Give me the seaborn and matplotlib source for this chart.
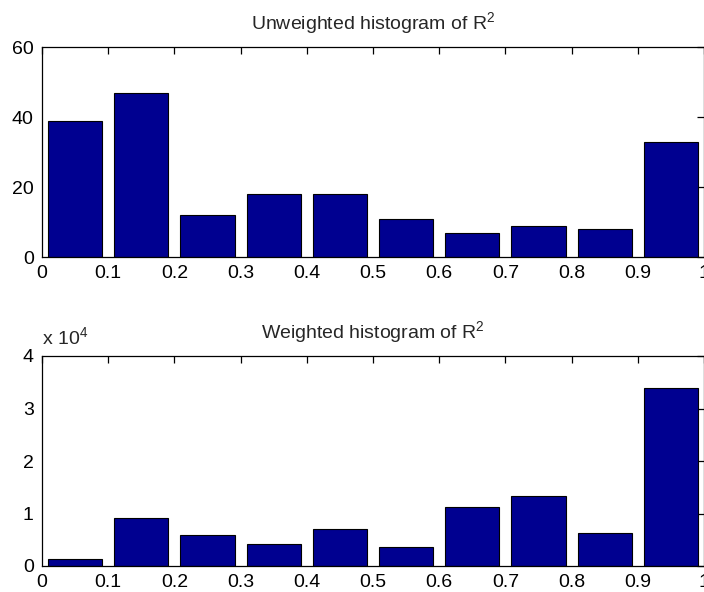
import numpy as np
import pandas as pd
import matplotlib
matplotlib.use("Agg")
import matplotlib.pyplot as plt
import seaborn as sns
from matplotlib.ticker import FuncFormatter, MultipleLocator

# ---- data ----
bin_centers = [0.05, 0.15, 0.25, 0.35, 0.45, 0.55, 0.65, 0.75, 0.85, 0.95]
bin_edges = [0.0, 0.1, 0.2, 0.3, 0.4, 0.5, 0.6, 0.7, 0.8, 0.9, 1.0]
unweighted_counts = [39, 47, 12, 18, 18, 11, 7, 9, 8, 33]
weighted_counts = [1250, 9200, 5900, 4200, 7100, 3600, 11200, 13400, 6200, 34000]
titles = ["Unweighted histogram of R$^2$", "Weighted histogram of R$^2$"]

sns.set_style("white")
plt.rcParams["font.family"] = ["Liberation Sans", "DejaVu Sans"]
plt.rcParams["mathtext.fontset"] = "custom"
plt.rcParams["mathtext.rm"] = "Liberation Sans"

tick_size = 14

fig = plt.figure(figsize=(7.04, 5.92), dpi=100)
ax1 = fig.add_axes([42/704, 1-257/592, (704-42)/704, (257-47)/592])
ax2 = fig.add_axes([42/704, 1-566/592, (704-42)/704, (566-356)/592])

bar_color = "#000090"

df1 = pd.DataFrame({"x": bin_centers, "w": unweighted_counts})
df2 = pd.DataFrame({"x": bin_centers, "w": weighted_counts})

for ax, df, title in [(ax1, df1, titles[0]), (ax2, df2, titles[1])]:
    sns.histplot(data=df, x="x", weights="w", bins=bin_edges, shrink=0.82,
                 color=bar_color, edgecolor="black", linewidth=0.8,
                 alpha=1.0, ax=ax)
    ax.set_xlim(0, 1)
    ax.set_xlabel("")
    ax.set_ylabel("")
    ax.set_title(title, fontsize=14, pad=12)
    ax.xaxis.set_major_locator(MultipleLocator(0.1))
    ax.xaxis.set_major_formatter(FuncFormatter(lambda v, p: "%g" % round(v, 2)))
    ax.tick_params(direction="in", length=5, width=0.9, top=True, right=True,
                   labelsize=tick_size, colors="black", pad=6)
    for s in ax.spines.values():
        s.set_visible(True)
        s.set_color("black")
        s.set_linewidth(0.9)

ax1.set_ylim(0, 60)
ax1.yaxis.set_major_locator(MultipleLocator(20))

ax2.set_ylim(0, 40000)
ax2.yaxis.set_major_locator(MultipleLocator(10000))
ax2.yaxis.set_major_formatter(FuncFormatter(lambda v, p: "%g" % (v / 1e4)))
ax2.text(0.0, 1.05, "x 10$^4$", transform=ax2.transAxes, fontsize=14,
         ha="left", va="baseline")

fig.savefig("out.png", dpi=100)
